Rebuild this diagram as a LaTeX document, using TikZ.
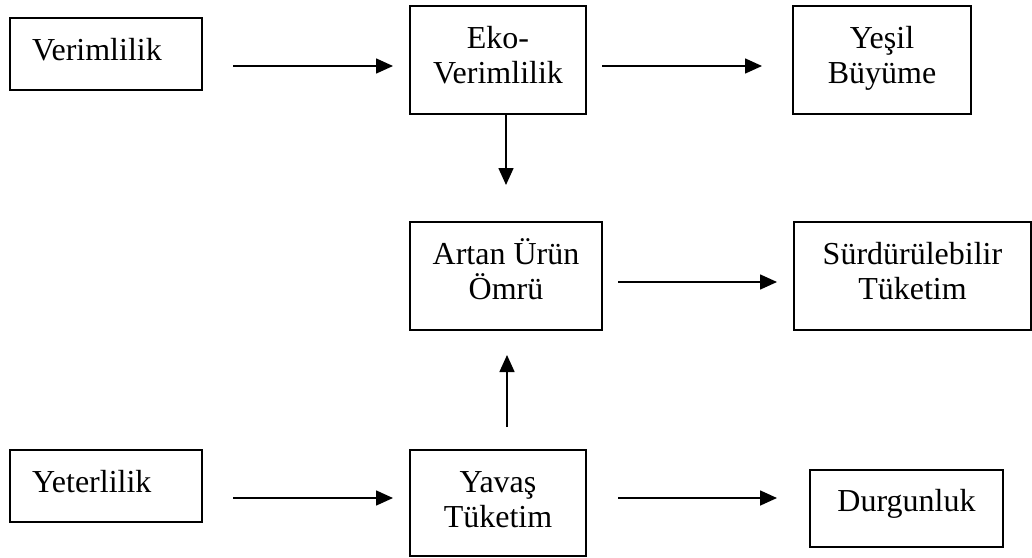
\documentclass[tikz,border=0pt]{standalone}
\usepackage{fontspec}
\setmainfont{Liberation Serif}
\usetikzlibrary{arrows.meta}
\newcommand\bxtext[3]{\parbox[c][#2][t]{#1}{\centering\rule{0pt}{42pt}#3}}
\newcommand\bxleft[3]{\parbox[c][#2][t]{#1}{\raggedright\hspace*{22pt}\rule{0pt}{42pt}#3}}
\begin{document}
\begin{tikzpicture}[x=1pt,y=-1pt,
  box/.style={draw, line width=1.7pt, inner sep=0pt, outer sep=0pt, anchor=north west,
    font=\fontsize{32}{35}\selectfont},
  arr/.style={line width=1.6pt, -{Triangle[length=17pt,width=15pt]}}]
\useasboundingbox (0,0) rectangle (1032,557);
\begin{scope}
\clip (0,0) rectangle (1032,557);
\node[box] (verim) at (10,18) {\bxleft{192pt}{72pt}{Verimlilik}};
\node[box] (eko) at (410,6) {\bxtext{176pt}{108pt}{Eko-\\Verimlilik}};
\node[box] (yesil) at (793,6) {\bxtext{178pt}{108pt}{Yeşil\\Büyüme}};
\node[box] (artan) at (410,222) {\bxtext{192pt}{108pt}{Artan Ürün\\Ömrü}};
\node[box] (surd) at (794,222) {\bxtext{237pt}{108pt}{Sürdürülebilir\\Tüketim}};
\node[box] (yeter) at (10,450) {\bxleft{192pt}{72pt}{Yeterlilik}};
\node[box] (yavas) at (410,450) {\bxtext{176pt}{106pt}{Yavaş\\Tüketim}};
\node[box] (durg) at (810,470) {\parbox[c][77pt][t]{193pt}{\centering\rule{0pt}{41pt}Durgunluk}};
\end{scope}
\coordinate (a1s) at (233,66);  \coordinate (a1e) at (393,66);
\coordinate (a2s) at (602,66);  \coordinate (a2e) at (762,66);
\coordinate (a3s) at (506,114); \coordinate (a3e) at (506,185);
\coordinate (a4s) at (618,282); \coordinate (a4e) at (777,282);
\coordinate (a5s) at (507,427); \coordinate (a5e) at (507,355);
\coordinate (a6s) at (233,498); \coordinate (a6e) at (393,498);
\coordinate (a7s) at (618,498); \coordinate (a7e) at (777,498);
\draw[arr] (a1s) -- (a1e);
\draw[arr] (a2s) -- (a2e);
\draw[arr] (a3s) -- (a3e);
\draw[arr] (a4s) -- (a4e);
\draw[arr] (a5s) -- (a5e);
\draw[arr] (a6s) -- (a6e);
\draw[arr] (a7s) -- (a7e);
\end{tikzpicture}
\end{document}
